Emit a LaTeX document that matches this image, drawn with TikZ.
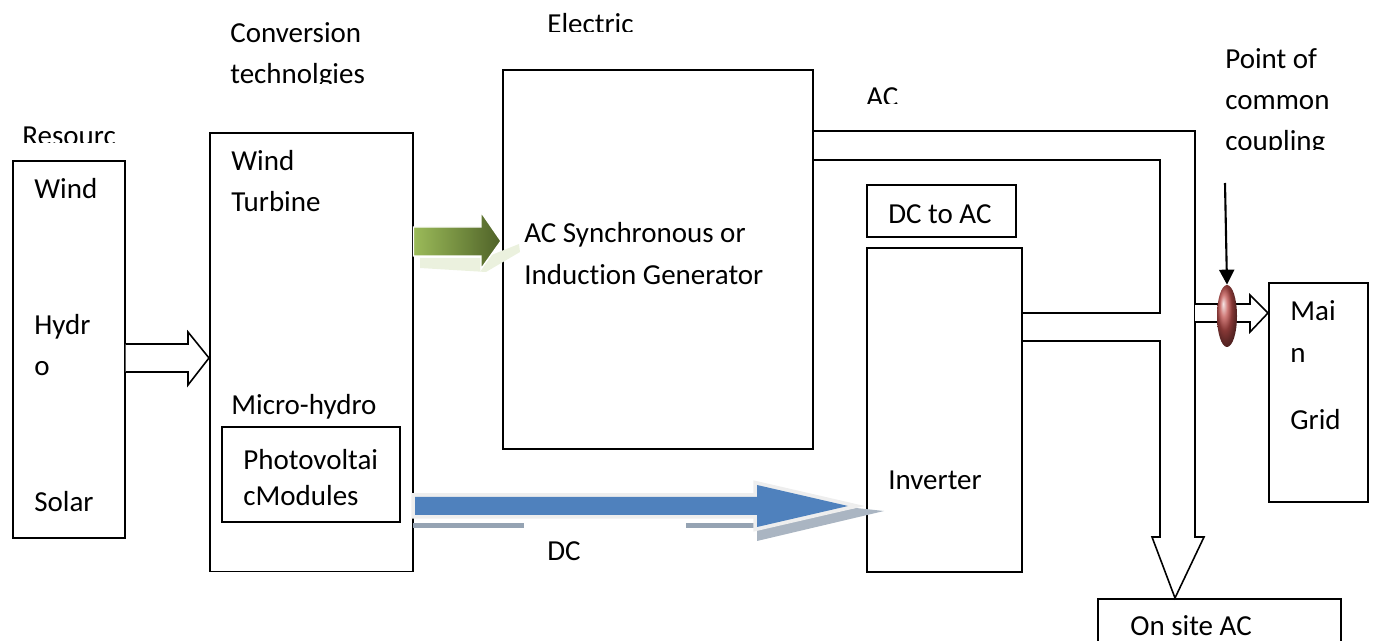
\documentclass[tikz,border=0pt]{standalone}
\usepackage{fontspec}
\setmainfont[Ligatures=NoCommon]{Carlito}
\usetikzlibrary{arrows.meta,shapes.geometric,calc}

\definecolor{flowgreen}{RGB}{155,187,89}
\definecolor{flowgreendk}{RGB}{79,98,40}
\definecolor{dcblue}{RGB}{79,129,189}
\definecolor{glowgray}{RGB}{238,238,238}
\definecolor{shadowgray}{RGB}{149,163,179}
\definecolor{pccred}{RGB}{192,80,77}

\begin{document}
\begin{tikzpicture}[
    x=0.02cm, y=-0.02cm,
    box/.style={draw, line width=0.9pt, inner sep=0pt, anchor=north west},
    lbl/.style={anchor=base west, inner sep=0pt, font=\fontsize{16.5}{23}\selectfont},
    block/.style={draw, line width=0.9pt, fill=white, line join=miter},
]
\useasboundingbox (0,0) rectangle (1373,641);

% ---------- Boxes ----------
\node[box, minimum width=2.24cm, minimum height=7.54cm] (res) at (12,160) {};
\node[box, minimum width=4.06cm, minimum height=8.78cm] (conv) at (209,132) {};
\node[box, minimum width=3.56cm, minimum height=1.90cm] (pv) at (221,426) {};
\node[box, minimum width=6.20cm, minimum height=7.58cm] (gen) at (502,69) {};
\node[box, minimum width=2.98cm, minimum height=1.04cm] (dcac) at (866,184) {};
\node[box, minimum width=3.10cm, minimum height=6.48cm] (inv) at (866,247) {};
\node[box, minimum width=1.98cm, minimum height=4.38cm] (grid) at (1268,282) {};
\node[box, minimum width=4.86cm, minimum height=1.20cm] (onsite) at (1097,598) {};

% ---------- Labels ----------
\begin{scope}
  \clip (0,100) rectangle (200,143);
  \node[lbl] (resttl) at (22,146) {Resourc};
\end{scope}
\node[lbl] (rwind) at (34,199) {Wind};
\node[lbl] (rhydra) at (34,335) {Hydr};
\node[lbl] (rhydrb) at (34,376) {o};
\node[lbl] (rsolar) at (34,512) {Solar};

\node[lbl] (convttl) at (230,43) {Conversion};
\begin{scope}
  \clip (200,50) rectangle (420,84);
  \node[lbl] (convttlb) at (230,84) {technolgies};
\end{scope}
\node[lbl] (cwind) at (231,171) {Wind};
\node[lbl] (cturb) at (231,212) {Turbine};
\node[lbl] (cmicro) at (231,415) {Micro-hydro};
\node[lbl] (cpva) at (243,470) {Photovoltai};
\node[lbl] (cpvb) at (243,506) {cModules};

\begin{scope}
  \clip (520,0) rectangle (700,32);
  \node[lbl] (genttl) at (547,34) {Electric};
\end{scope}
\node[lbl] (gena) at (524,243) {AC Synchronous or};
\node[lbl] (genb) at (524,285) {Induction Generator};

\begin{scope}
  \clip (850,80) rectangle (950,104);
  \node[lbl] (acttl) at (866,107) {AC};
\end{scope}
\node[lbl] (dcactxt) at (888,224) {DC to AC};
\node[lbl] (invtxt) at (888,490) {Inverter};
\node[lbl] (dcttl) at (547,561) {DC};

\node[lbl] (pcca) at (1225,69) {Point of};
\node[lbl] (pccb) at (1225,110) {common};
\begin{scope}
  \clip (1200,120) rectangle (1373,150);
  \node[lbl] (pccc) at (1225,151) {coupling};
\end{scope}
\node[lbl] (grida) at (1290,321) {Mai};
\node[lbl] (gridb) at (1290,363) {n};
\node[lbl] (gridc) at (1290,430) {Grid};
\node[lbl] (onsitetxt) at (1130,636) {On site AC};

% ---------- Resource -> conversion ----------
\draw[block] (res.east |- 0,344) -- (188,344) -- (188,332) -- (conv.west |- 0,358)
    -- (188,385) -- (188,372) -- (res.east |- 0,372);

% ---------- Wind turbine -> generator (green) ----------
\fill[flowgreen!20] (420,258) -- (484,258) -- (519,244) -- (520,252) -- (486,272) -- (420,268) -- cycle;
\shade[left color=flowgreen, right color=flowgreendk, draw=white, line width=0.8pt]
    (conv.east |- 0,227) -- (481,227) -- (481,212) -- (501,241) -- (481,269) -- (481,256)
    -- (conv.east |- 0,256) -- cycle;

% ---------- PV -> inverter (blue, DC) ----------
\fill[shadowgray] (413,523) rectangle (524,528);
\fill[shadowgray] (686,523) rectangle (757,528);
\fill[shadowgray!80] (757,527) -- (757,541) -- (884,511) -- (856,508) -- cycle;
\draw[glowgray, line width=0.15cm, line join=miter]
    (415,497) -- (757,497) -- (757,485) -- (848,506) -- (757,527) -- (757,515) -- (415,515) -- cycle;
\fill[dcblue]
    (415,497) -- (757,497) -- (757,485) -- (848,506) -- (757,527) -- (757,515) -- (415,515) -- cycle;

% ---------- AC bus ----------
\draw[line width=0.9pt, line join=miter] (gen.east |- 0,131) -- (1195,131) -- (1195,537)
    -- (1204,537) -- (onsite.north -| 1175,0) -- (1152,537) -- (1160,537) -- (1160,341)
    -- (inv.east |- 0,341);
\draw[line width=0.9pt, line join=miter] (gen.east |- 0,160) -- (1160,160) -- (1160,313)
    -- (inv.east |- 0,313);

% ---------- To main grid ----------
\draw[block] (1195,304) -- (1250,304) -- (1250,295) -- (grid.west |- 0,313)
    -- (1250,332) -- (1250,322) -- (1195,322);

% ---------- Point of common coupling ----------
\node[ellipse, minimum width=0.4cm, minimum height=1.24cm, inner sep=0pt,
      shading=ball, ball color=pccred] (pcc) at (1227,316) {};
\coordinate (pcctop) at (1225,183);
\draw[-{Triangle[length=3mm,width=3mm]}, line width=1.2pt] (pcctop) -- (pcc.north);

\end{tikzpicture}
\end{document}
